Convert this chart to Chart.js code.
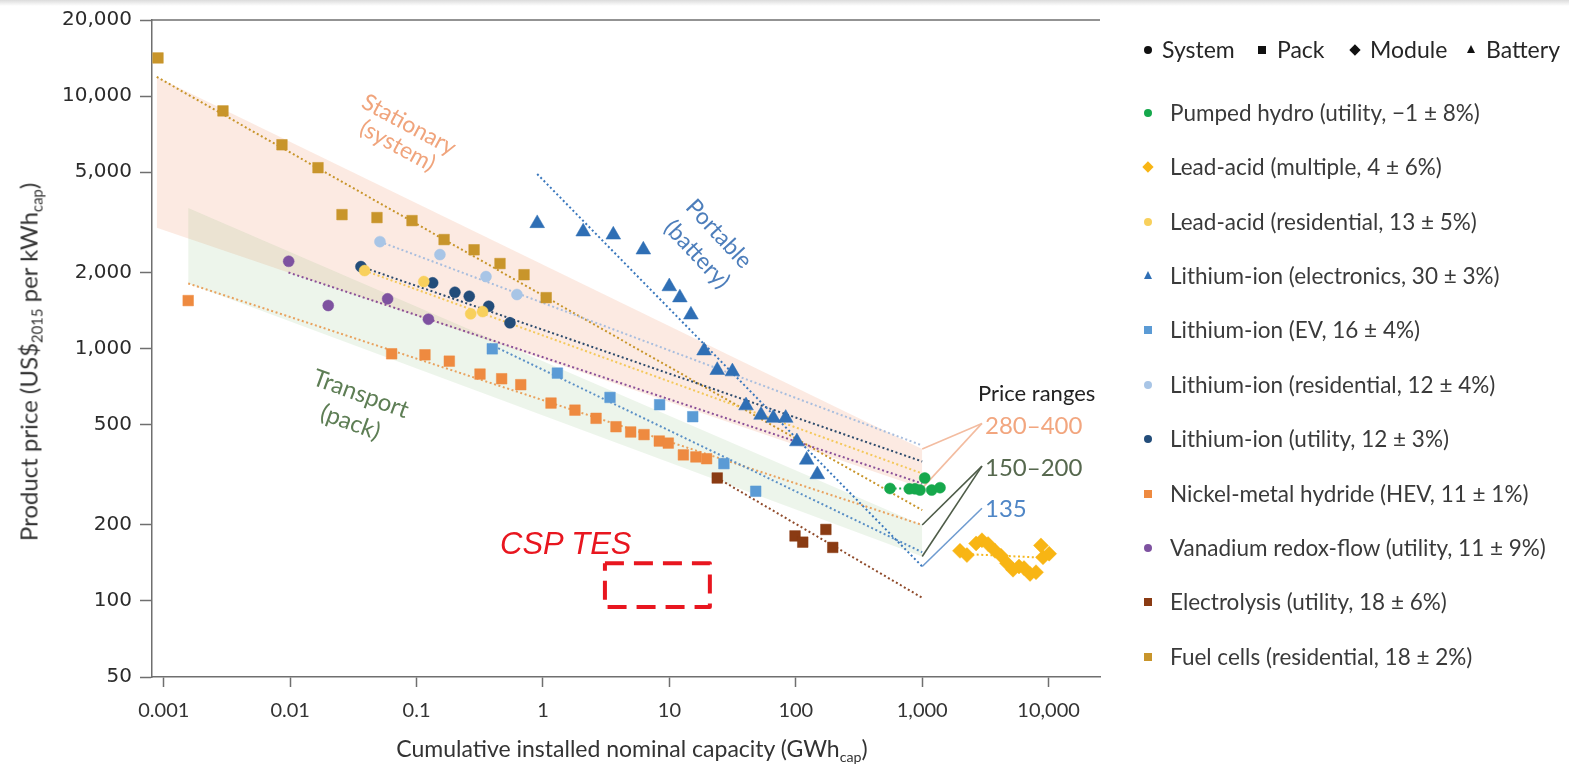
<!DOCTYPE html>
<html>
<head>
<meta charset="utf-8">
<title>Experience curves of electricity storage technologies</title>
<script src="https://cdn.jsdelivr.net/npm/chart.js@4.4.1/dist/chart.umd.min.js"></script>
<style>
  html, body { margin: 0; padding: 0; background: #fff; }
  #wrap { position: relative; width: 1569px; height: 767px; overflow: hidden; font-family: Lato, "Open Sans", sans-serif; color: #333; }
  #topShade { position: absolute; left: 0; top: 0; width: 100%; height: 6px; background: linear-gradient(#dcdcdc, rgba(255,255,255,0)); }
  #c { position: absolute; left: 0; top: 0; }
  .txt { position: absolute; white-space: nowrap; line-height: 1; }
  .rot { position: absolute; white-space: nowrap; text-align: center; }
  .rot > div { transform: translate(-50%, -50%) rotate(var(--a)); transform-origin: center center; display: inline-block; }
  sub { font-size: 0.62em; vertical-align: -0.32em; line-height: 0; }
  .mk { position: absolute; }
</style>
</head>
<body>
<div id="wrap">
  <canvas id="c" width="1569" height="767"></canvas>
  <div id="topShade"></div>
  <div id="overlay"></div>
  <div id="legend"></div>
</div>
<script>
// ---- axis ticks ----
const xTickValues = [0.001, 0.01, 0.1, 1, 10, 100, 1000, 10000];
const yTickValues = [50, 100, 200, 500, 1000, 2000, 5000, 10000, 20000];

// ---- observed prices (cumulative capacity GWh, price US$2015 per kWh) ----
const pumpedHydroCap   = [556, 791, 877, 961, 1047, 1189, 1383];
const pumpedHydroPrice = [279, 278, 278, 275, 307, 275, 281];

const leadAcidMultiCap   = [1990, 2260, 2670, 2970, 3320, 3770, 4200, 4690, 5230, 5830, 6390, 7130, 7950, 8700, 9030, 10100];
const leadAcidMultiPrice = [158, 152, 169, 174, 168, 158, 151, 141, 133, 137, 135, 128, 130, 166, 149, 154];

const leadAcidResCap   = [0.0388, 0.114, 0.268, 0.333];
const leadAcidResPrice = [2035, 1841, 1372, 1400];

const liElectronicsCap   = [0.90, 2.08, 3.60, 6.22, 9.98, 12.1, 14.8, 18.8, 23.9, 31.5, 40.4, 53.1, 66.4, 83.2, 102, 122, 148];
const liElectronicsPrice = [3130, 2900, 2820, 2460, 1760, 1590, 1360, 980, 820, 810, 594, 545, 530, 530, 428, 362, 317];

const liEvCap   = [0.397, 1.30, 3.39, 8.37, 15.3, 27.0, 48.2];
const liEvPrice = [997, 799, 640, 599, 537, 350, 272];

const liResCap   = [0.0513, 0.153, 0.354, 0.622];
const liResPrice = [2650, 2354, 1927, 1636];

const liUtilityCap   = [0.0363, 0.134, 0.201, 0.261, 0.372, 0.548];
const liUtilityPrice = [2110, 1820, 1670, 1610, 1470, 1264];

const nimhCap   = [0.00156, 0.0635, 0.1165, 0.1815, 0.3175, 0.471, 0.667, 1.157, 1.79, 2.63, 3.78, 4.94, 6.30, 8.32, 9.80, 12.9, 16.2, 19.7];
const nimhPrice = [1548, 953, 944, 891, 792, 759, 719, 608, 570, 529, 490, 467, 456, 430, 422, 379, 372, 366];

const vanadiumCap   = [0.00973, 0.020, 0.059, 0.124];
const vanadiumPrice = [2215, 1480, 1573, 1306];

const electrolysisCap   = [23.9, 98.6, 113.5, 173, 196];
const electrolysisPrice = [307, 181, 171, 192, 163];

const fuelCellCap   = [0.00090, 0.00294, 0.00861, 0.0166, 0.0257, 0.0486, 0.092, 0.165, 0.285, 0.457, 0.708, 1.06];
const fuelCellPrice = [14150, 8730, 6410, 5200, 3390, 3300, 3210, 2700, 2460, 2170, 1960, 1590];

// ---- experience-curve fits (start and end of each dotted line), legend order ----
const trendStartCap   = [556, 2480, 0.0388, 0.90, 0.38, 0.0513, 0.0363, 0.00156, 0.0097, 23.9, 0.00088];
const trendStartPrice = [279, 153, 2035, 4910, 1040, 2650, 2110, 1810, 2000, 307, 11900];
const trendEndCap     = [1383, 10260, 1000, 1000, 1000, 1000, 1000, 1000, 1000, 1000, 1000];
const trendEndPrice   = [279, 148, 320, 137, 156, 413, 357, 200, 292, 103, 229];

// ---- technology bands ----
const stationaryBandCap   = [0.00088, 1000];
const stationaryBandUpper = [11900, 400];
const stationaryBandLower = [3010, 280];
const transportBandCap    = [0.00156, 1000];
const transportBandUpper  = [3600, 200];
const transportBandLower  = [1810, 150];

// ---- price ranges at 1,000 GWh ----
const rangeLabels     = ['280\u2013400', '150\u2013200', '135'];
const rangeFromCap    = 1000;
const rangeToCap      = 2970;
const rangeFromPrices = [[400, 280], [200, 150], [137]];
const rangeToPrice    = [505, 342, 233];

// ---- CSP thermal storage box ----
const cspBoxCap   = [3.09, 20.9];
const cspBoxPrice = [94.6, 141];

// ---- series labels ----
const seriesNames = [
  'Pumped hydro (utility, \u22121 \u00b1 8%)',
  'Lead-acid (multiple, 4 \u00b1 6%)',
  'Lead-acid (residential, 13 \u00b1 5%)',
  'Lithium-ion (electronics, 30 \u00b1 3%)',
  'Lithium-ion (EV, 16 \u00b1 4%)',
  'Lithium-ion (residential, 12 \u00b1 4%)',
  'Lithium-ion (utility, 12 \u00b1 3%)',
  'Nickel-metal hydride (HEV, 11 \u00b1 1%)',
  'Vanadium redox-flow (utility, 11 \u00b1 9%)',
  'Electrolysis (utility, 18 \u00b1 6%)',
  'Fuel cells (residential, 18 \u00b1 2%)'
];
const seriesCap   = [pumpedHydroCap, leadAcidMultiCap, leadAcidResCap, liElectronicsCap, liEvCap, liResCap, liUtilityCap, nimhCap, vanadiumCap, electrolysisCap, fuelCellCap];
const seriesPrice = [pumpedHydroPrice, leadAcidMultiPrice, leadAcidResPrice, liElectronicsPrice, liEvPrice, liResPrice, liUtilityPrice, nimhPrice, vanadiumPrice, electrolysisPrice, fuelCellPrice];

// ---- styling ----
const seriesColors = ['#16a84c', '#f8b514', '#f8d05c', '#2f6fb5', '#5b9bd5', '#a8c5e6', '#234d7a', '#ee8a40', '#7e52a0', '#8a3b13', '#c8952b'];
const lineColors   = ['#16a84c', '#f5b820', '#f4c85a', '#3b78bd', '#5a8fc6', '#a9bede', '#2c4a6c', '#e9a25e', '#8a4f98', '#8f4a2a', '#c8952b'];
const seriesShapes = ['circle', 'rectRot', 'circle', 'triangle', 'rect', 'circle', 'circle', 'rect', 'circle', 'rect', 'rect'];
const shapeRadius  = { circle: 5.5, rect: 7.5, rectRot: 7.5, triangle: 8.5 };
const rangeColors  = ['#f2a67f', '#56684e', '#4f86c6'];
const rangeLineColors = ['#f3bca0', '#4e5c48', '#6e9bd0'];

const pts = (xs, ys) => xs.map((x, i) => ({ x, y: ys[i] }));

const datasets = [];

// bands (drawn first)
datasets.push({ type: 'line', data: pts(stationaryBandCap, stationaryBandUpper), borderColor: 'rgba(0,0,0,0)', borderWidth: 0, pointRadius: 0, fill: '+1', backgroundColor: 'rgba(240,150,110,0.2)', order: 10 });
datasets.push({ type: 'line', data: pts(stationaryBandCap, stationaryBandLower), borderColor: 'rgba(0,0,0,0)', borderWidth: 0, pointRadius: 0, fill: false, order: 10 });
datasets.push({ type: 'line', data: pts(transportBandCap, transportBandUpper), borderColor: 'rgba(0,0,0,0)', borderWidth: 0, pointRadius: 0, fill: '+1', backgroundColor: 'rgba(130,185,110,0.14)', order: 9 });
datasets.push({ type: 'line', data: pts(transportBandCap, transportBandLower), borderColor: 'rgba(0,0,0,0)', borderWidth: 0, pointRadius: 0, fill: false, order: 9 });

// experience-curve fits
seriesNames.forEach((name, i) => {
  datasets.push({
    type: 'line',
    data: [{ x: trendStartCap[i], y: trendStartPrice[i] }, { x: trendEndCap[i], y: trendEndPrice[i] }],
    borderColor: lineColors[i], borderWidth: 2, borderDash: [2, 2.6], pointRadius: 0, fill: false, order: 5
  });
});

// connectors from the 1,000 GWh ends to the price-range labels
rangeFromPrices.forEach((froms, k) => {
  froms.forEach(p => {
    datasets.push({
      type: 'line',
      data: [{ x: rangeFromCap, y: p }, { x: rangeToCap, y: rangeToPrice[k] }],
      borderColor: rangeLineColors[k], borderWidth: 1.6, pointRadius: 0, fill: false, order: 4
    });
  });
});

// observed prices
seriesNames.forEach((name, i) => {
  const shape = seriesShapes[i];
  datasets.push({
    type: 'scatter', label: name,
    data: pts(seriesCap[i], seriesPrice[i]),
    pointStyle: shape, pointRadius: shapeRadius[shape],
    backgroundColor: seriesColors[i], borderColor: seriesColors[i], borderWidth: 0.5,
    order: 1
  });
});

// CSP TES dashed frame
datasets.push({
  type: 'line',
  data: [
    { x: cspBoxCap[0], y: cspBoxPrice[1] }, { x: cspBoxCap[1], y: cspBoxPrice[1] },
    { x: cspBoxCap[1], y: cspBoxPrice[0] }, { x: cspBoxCap[0], y: cspBoxPrice[0] },
    { x: cspBoxCap[0], y: cspBoxPrice[1] }
  ],
  borderColor: '#e8161f', borderWidth: 4, borderDash: [19, 10], borderJoinStyle: 'round',
  pointRadius: 0, fill: false, order: 0
});

const fmtTick = v => v >= 1 ? Number(v).toLocaleString('en-US') : String(v);

const topFrame = {
  id: 'topFrame',
  afterDraw(chart) {
    const { ctx, chartArea } = chart;
    ctx.save();
    ctx.strokeStyle = '#6f6f6f';
    ctx.lineWidth = 1.5;
    ctx.beginPath();
    ctx.moveTo(chartArea.left, chartArea.top);
    ctx.lineTo(chartArea.right, chartArea.top);
    ctx.stroke();
    ctx.restore();
  }
};

const chart = new Chart(document.getElementById('c'), {
  type: 'scatter',
  data: { datasets },
  plugins: [topFrame],
  options: {
    responsive: false,
    animation: false,
    devicePixelRatio: 1,
    layout: { padding: { left: 0, top: 19, right: 469, bottom: 0 } },
    plugins: { legend: { display: false }, tooltip: { enabled: false } },
    scales: {
      x: {
        type: 'logarithmic', position: 'bottom', min: 0.000807, max: 25500,
        afterBuildTicks: s => { s.ticks = xTickValues.map(v => ({ value: v })); },
        afterFit: s => { s.height = 90; },
        grid: { display: true, drawOnChartArea: false, drawTicks: true, tickLength: 10, tickColor: '#6f6f6f', tickWidth: 1.5 },
        border: { display: true, color: '#6f6f6f', width: 1.5 },
        ticks: { autoSkip: false, maxRotation: 0, padding: 12, color: '#333', font: { family: 'Lato', size: 20 }, callback: v => fmtTick(v) }
      },
      y: {
        type: 'logarithmic', position: 'left', min: 50, max: 20000,
        afterBuildTicks: s => { s.ticks = yTickValues.map(v => ({ value: v })); },
        afterFit: s => { s.width = 152; },
        grid: { display: true, drawOnChartArea: false, drawTicks: true, tickLength: 12, tickColor: '#6f6f6f', tickWidth: 1.5 },
        border: { display: true, color: '#6f6f6f', width: 1.5 },
        ticks: { autoSkip: false, padding: 8, color: '#2b2b2b', font: { family: 'DejaVu Sans', size: 20 }, callback: v => fmtTick(v) }
      }
    }
  }
});

// ---- text overlays ----
const overlay = document.getElementById('overlay');
function addRotated(html, cx, cy, angle, css) {
  const w = document.createElement('div');
  w.className = 'rot';
  w.style.left = cx + 'px';
  w.style.top = cy + 'px';
  w.innerHTML = '<div style="--a:' + angle + 'deg;' + css + '">' + html + '</div>';
  overlay.appendChild(w);
}
function addText(html, left, cy, css) {
  const d = document.createElement('div');
  d.className = 'txt';
  d.style.left = left + 'px';
  d.style.top = cy + 'px';
  d.style.transform = 'translateY(-50%)';
  d.style.cssText += css;
  d.innerHTML = html;
  overlay.appendChild(d);
}

addRotated('Product price (US$<sub>2015</sub> per kWh<sub>cap</sub>)', 28, 362, -90, 'font-size:24px;color:#333;');
addRotated('Cumulative installed nominal capacity (GWh<sub>cap</sub>)', 632, 748, 0, 'font-size:23px;color:#333;');

addRotated('Stationary<br>(system)', 404, 134, 28.5, 'font-size:23px;line-height:24px;color:#f0a47c;');
addRotated('Portable<br>(battery)', 709, 243, 47, 'font-size:23px;line-height:30px;color:#4d7ebb;');
addRotated('Transport<br>(pack)', 356, 407, 20, 'font-size:24px;line-height:30px;color:#5e7e55;');

addText('CSP TES', 500, 543, 'font-family:"Liberation Sans",Arial,sans-serif;font-style:italic;font-size:31px;color:#e8161f;');

addText('Price ranges', 978, 393, 'font-size:22px;color:#222;');
const rangeLabelY = [425, 467, 508];
rangeLabels.forEach((t, k) => addText(t, 985, rangeLabelY[k], 'font-size:24px;color:' + rangeColors[k] + ';'));

// ---- legend ----
const legend = document.getElementById('legend');
function marker(shape, color, cx, cy, size) {
  const m = document.createElement('div');
  m.className = 'mk';
  const s = size;
  if (shape === 'circle') {
    m.style.cssText = `left:${cx - s / 2}px;top:${cy - s / 2}px;width:${s}px;height:${s}px;border-radius:50%;background:${color};`;
  } else if (shape === 'rect') {
    m.style.cssText = `left:${cx - s / 2}px;top:${cy - s / 2}px;width:${s}px;height:${s}px;background:${color};`;
  } else if (shape === 'rectRot') {
    const q = s * 0.72;
    m.style.cssText = `left:${cx - q / 2}px;top:${cy - q / 2}px;width:${q}px;height:${q}px;background:${color};transform:rotate(45deg);`;
  } else {
    m.style.cssText = `left:${cx - s / 2 - 0.5}px;top:${cy - s / 2 - 1}px;width:0;height:0;border-left:${s / 2 + 0.5}px solid transparent;border-right:${s / 2 + 0.5}px solid transparent;border-bottom:${s}px solid ${color};`;
  }
  legend.appendChild(m);
}
const headNames  = ['System', 'Pack', 'Module', 'Battery'];
const headShapes = ['circle', 'rect', 'rectRot', 'triangle'];
const headMarkX  = [1148, 1262, 1355, 1471];
const headTextX  = [1162, 1277, 1370, 1486];
headNames.forEach((n, k) => {
  marker(headShapes[k], '#111', headMarkX[k], 50, headShapes[k] === 'rectRot' ? 11 : 8);
  const d = document.createElement('div');
  d.className = 'txt';
  d.style.cssText = `left:${headTextX[k]}px;top:49px;transform:translateY(-50%);font-size:23px;color:#262626;`;
  d.textContent = n;
  legend.appendChild(d);
});
seriesNames.forEach((n, i) => {
  const cy = 112.7 + i * 54.4;
  marker(seriesShapes[i], seriesColors[i], 1148, cy, seriesShapes[i] === 'rectRot' ? 11 : 8);
  const d = document.createElement('div');
  d.className = 'txt';
  d.style.cssText = `left:1170px;top:${cy}px;transform:translateY(-50%);font-size:22.5px;color:#3a3a3a;`;
  d.textContent = n;
  legend.appendChild(d);
});
</script>
</body>
</html>
